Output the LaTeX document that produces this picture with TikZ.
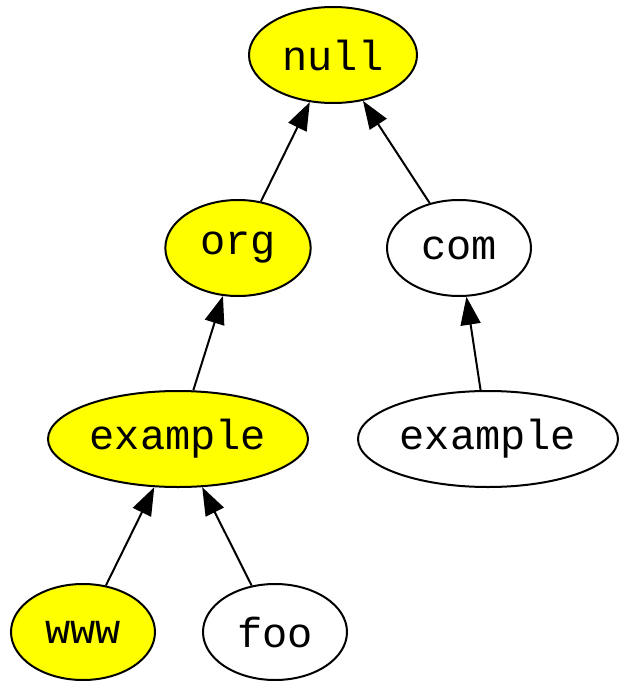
\documentclass[tikz,border=0pt]{standalone}
\usepackage{fontspec}
\setmonofont{Liberation Mono}
\usepackage{tikz}
\usetikzlibrary{shapes,arrows.meta}
\definecolor{mark}{RGB}{255,255,0}

\begin{document}
\begin{tikzpicture}[<-,>={Triangle[length=21pt,width=15pt]},line width=1.5pt,x=0.75pt,y=-0.75pt]
\tikzstyle{label}=[ellipse,draw=black,text=black,fill=white,inner sep=0pt,minimum height=72pt,minimum width=108pt,font=\ttfamily\fontsize{31.5}{31.5}\selectfont]
\tikzstyle{marked}=[label,fill=mark]
\useasboundingbox (0,0) rectangle (619,681);
\node[marked,minimum width=126pt] (null) at (333,55) {null};
\node[marked,minimum width=109pt] (org) at (238,248) {org};
\node[label] (com) at (459,248) {com};
\node[marked,minimum width=195pt] (orgexample) at (178,439) {example};
\node[label,minimum width=195pt] (comexample) at (488,439) {example};
\node[marked] (www) at (83,632) {www};
\node[label] (foo) at (275,632) {foo};
\path (null)edge (org)
            edge (com)
      (org)edge (orgexample)
      (com)edge (comexample)
      (orgexample)edge (www)
            edge (foo);
\end{tikzpicture}
\end{document}
